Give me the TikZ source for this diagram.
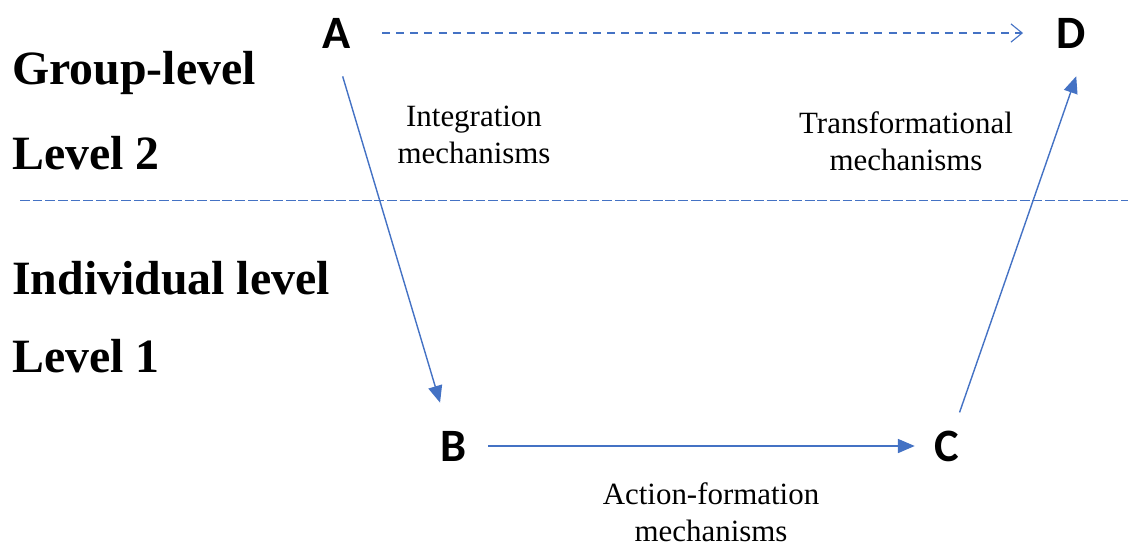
\documentclass[tikz,border=0pt]{standalone}
\usepackage{fontspec}
\setmainfont{Liberation Serif}
\newfontfamily\letterfont{Carlito}
\usetikzlibrary{arrows.meta}
\definecolor{linkblue}{HTML}{4472C4}
\tikzset{
x=0.025cm,y=-0.025cm,
lvl/.style={font=\fontsize{34}{37}\selectfont\bfseries, inner sep=0pt, anchor=base west},
letter/.style={font=\letterfont\fontsize{33}{36}\selectfont\bfseries, inner sep=0pt},
mech/.style={font=\fontsize{22}{26}\selectfont, align=center, inner sep=0pt},
mlink/.style={draw=linkblue, line width=1pt, -{Triangle[length=12pt,width=10pt]}},
dlink/.style={draw=linkblue, line width=0.8pt, dash pattern=on 5.7pt off 4.3pt,
  -{Straight Barb[length=8pt,width=13pt]}},
levelsep/.style={draw=linkblue, line width=0.6pt, dash pattern=on 7pt off 2pt},
}
\begin{document}
\begin{tikzpicture}
	\useasboundingbox (0,0) rectangle (1131,547);

	% levels
	\node[lvl] (grp) at (12,84) {Group-level};
	\node[lvl] (lv2) at (12,169) {Level 2};
	\node[lvl] (ind) at (12,294) {Individual level};
	\node[lvl] (lv1) at (12,372) {Level 1};
	\draw[levelsep] (20,200) -- (1128,200);

	% points
	\node[letter] (A) at (337,33) {A};
	\node[letter] (D) at (1071,33) {D};
	\node[letter] (B) at (454,446) {B};
	\node[letter] (C) at (947,446) {C};

	% mechanisms
	\node[mech] (integ) at (474,135) {Integration\\mechanisms};
	\node[mech] (trans) at (906,141) {Transformational\\mechanisms};
	\node[mech] (action) at (711,512) {Action-formation\\mechanisms};

	\path
	(A.east) edge[dlink, shorten <=22pt, shorten >=23.5pt] (D.west)
	(A.-100) edge[mlink, shorten <=20.8pt, shorten >=20.8pt] (B.110)
	(B.east) edge[mlink, shorten <=15pt, shorten >=14pt] (C.west)
	(C.68) edge[mlink, shorten <=13.5pt, shorten >=21pt] (D.south east)
	;
\end{tikzpicture}
\end{document}
